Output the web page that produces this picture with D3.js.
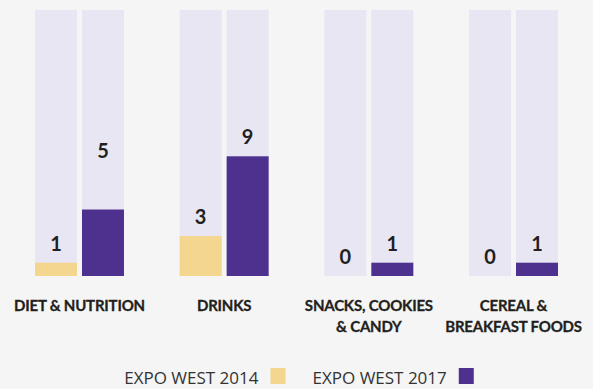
<!DOCTYPE html>
<html>
<head>
<meta charset="utf-8">
<script src="https://cdn.jsdelivr.net/npm/d3@7"></script>
<style>
  html, body { margin: 0; padding: 0; background: #f5f5f5; }
  svg { display: block; }
</style>
</head>
<body>
<svg id="chart" width="593" height="389"></svg>
<script>
// Product launches by category, two show years
const categories = [
  ["DIET & NUTRITION"],
  ["DRINKS"],
  ["SNACKS, COOKIES", "& CANDY"],
  ["CEREAL &", "BREAKFAST FOODS"]
];
const seriesNames = ["EXPO WEST 2014", "EXPO WEST 2017"];
const values2014 = [1, 3, 0, 0];
const values2017 = [5, 9, 1, 1];
const maxValue = 20;

const colors = ["#f4d68e", "#4e318e"];
const trackColor = "#e8e6f3";

const svg = d3.select("#chart");
const catKeys = categories.map(c => c.join(" "));

const x0 = d3.scaleBand()
  .domain(catKeys)
  .range([35, 558])
  .paddingInner(0.385)
  .paddingOuter(0);

const x1 = d3.scaleBand()
  .domain(seriesNames)
  .range([0, x0.bandwidth()])
  .paddingInner(0.106)
  .paddingOuter(0);

const y = d3.scaleLinear().domain([0, maxValue]).range([276, 10]);

const rows = catKeys.map((k, i) => ({
  key: k,
  lines: categories[i],
  vals: [
    { series: seriesNames[0], value: values2014[i], color: colors[0] },
    { series: seriesNames[1], value: values2017[i], color: colors[1] }
  ]
}));

// extra lift for a value label that sits higher above its bar
const labelLift = { "DIET & NUTRITION|EXPO WEST 2017": 40 };

const groups = svg.selectAll("g.cat")
  .data(rows)
  .join("g")
  .attr("class", "cat")
  .attr("transform", d => `translate(${x0(d.key)},0)`);

// full-height tracks
groups.selectAll("rect.track")
  .data(d => d.vals)
  .join("rect")
  .attr("class", "track")
  .attr("x", d => x1(d.series))
  .attr("width", x1.bandwidth())
  .attr("y", y(maxValue))
  .attr("height", y(0) - y(maxValue))
  .attr("fill", trackColor);

// value bars
groups.selectAll("rect.bar")
  .data(d => d.vals)
  .join("rect")
  .attr("class", "bar")
  .attr("x", d => x1(d.series))
  .attr("width", x1.bandwidth())
  .attr("y", d => y(d.value))
  .attr("height", d => y(0) - y(d.value))
  .attr("fill", d => d.color);

// value labels
groups.each(function(row) {
  d3.select(this).selectAll("text.val")
    .data(row.vals)
    .join("text")
    .attr("class", "val")
    .attr("x", d => x1(d.series) + x1.bandwidth() / 2)
    .attr("y", d => y(d.value) - 12 - (labelLift[row.key + "|" + d.series] || 0))
    .attr("text-anchor", "middle")
    .attr("font-family", "Lato, sans-serif")
    .attr("font-weight", 700)
    .attr("font-size", 20)
    .attr("fill", "#231f20")
    .text(d => d.value);
});

// category labels
groups.append("text")
  .attr("text-anchor", "middle")
  .attr("font-family", "Lato, sans-serif")
  .attr("font-weight", 700)
  .attr("font-size", 15)
  .attr("letter-spacing", -0.2)
  .attr("fill", "#231f20")
  .attr("stroke", "#231f20")
  .attr("stroke-width", 0.3)
  .selectAll("tspan")
  .data(d => d.lines)
  .join("tspan")
  .attr("x", x0.bandwidth() / 2)
  .attr("y", (d, i) => 311 + i * 21)
  .text(d => d);

// legend
const legend = svg.append("g");
let cursor = 0;
seriesNames.forEach((name, i) => {
  const item = legend.append("g").attr("transform", `translate(${cursor},0)`);
  const t = item.append("text")
    .attr("x", 0)
    .attr("y", 384)
    .attr("font-family", "'Open Sans', sans-serif")
    .attr("font-size", 17)
    .attr("fill", "#333333")
    .text(name);
  const w = t.node().getComputedTextLength();
  item.append("rect")
    .attr("x", w + 12)
    .attr("y", 368)
    .attr("width", 15)
    .attr("height", 16)
    .attr("fill", colors[i]);
  cursor += w + 12 + 15 + 27;
});
const legendWidth = cursor - 27;
legend.attr("transform", `translate(${299 - legendWidth / 2},0)`);
</script>
</body>
</html>
